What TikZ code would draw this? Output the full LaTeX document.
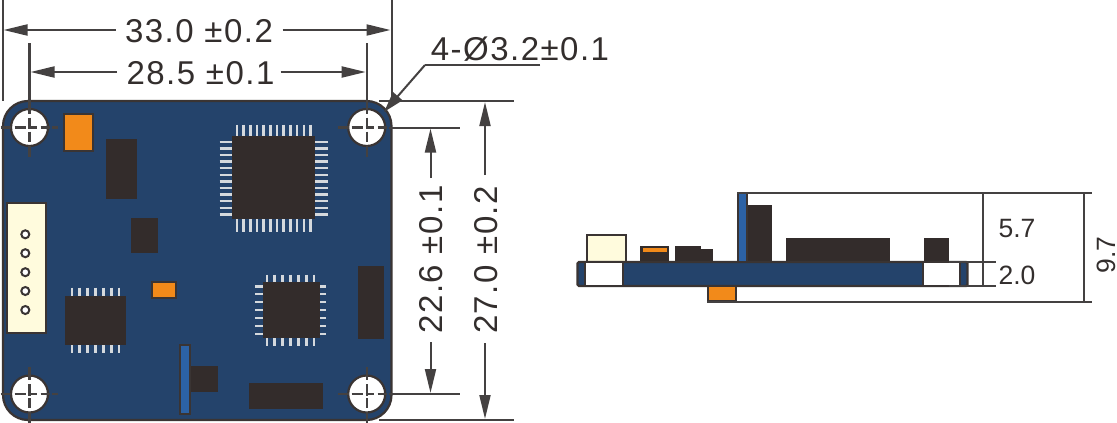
\documentclass[tikz,border=0pt]{standalone}
\usepackage{fontspec}
\setmainfont{Liberation Sans}
\newfontfamily\dimfont[LetterSpace=4.5]{Liberation Sans}
\usetikzlibrary{arrows.meta}
\definecolor{navy}{HTML}{24436B}
\definecolor{chip}{HTML}{332C2B}
\definecolor{edge}{HTML}{3A3433}
\definecolor{dimc}{HTML}{444141}
\definecolor{orng}{HTML}{F28A1A}
\definecolor{cream}{HTML}{FFFBDD}
\definecolor{blueb}{HTML}{2C62A5}
\definecolor{pinc}{HTML}{D5D9DD}
\definecolor{txt}{HTML}{332E2D}
\tikzset{
  x=1pt,y=-1pt,
  board/.style={fill=navy,draw=edge,line width=2.2pt},
  chipbox/.style={fill=chip,draw=none},
  orangebox/.style={fill=orng,draw=edge,line width=2pt},
  creambox/.style={fill=cream,draw=edge,line width=2pt},
  bluebox/.style={fill=blueb,draw=edge,line width=2pt},
  whitebox/.style={fill=white,draw=edge,line width=2pt},
  pin/.style={draw=pinc,line width=2.4pt},
  dimline/.style={draw=dimc,line width=2pt},
  center/.style={draw=dimc,line width=2.2pt},
  arrowline/.style={draw=dimc,line width=2pt,-{Triangle[length=24pt,width=11pt]}},
  bigtext/.style={text=txt,inner sep=0pt,font=\dimfont\fontsize{33}{33}\selectfont},
  leadtext/.style={text=txt,inner sep=0pt,font=\dimfont\fontsize{33}{33}\selectfont},
  smalltext/.style={text=txt,inner sep=0pt,font=\fontsize{26.5}{27}\selectfont},
  hole/.style={fill=white,draw=edge,line width=2.2pt},
}
\begin{document}
\begin{tikzpicture}
\useasboundingbox (0,0) rectangle (1117,423);
% ---------- top view ----------
\draw[board,rounded corners=25pt] (3,101) rectangle (391.5,420);
\draw[orangebox] (63.5,114) rectangle (92.5,150.5);
\path[chipbox] (106,139) rectangle (137,199);
% big QFP
\foreach \i in {0,...,11}{
  \draw[pin] ({237+\i*6.67},124.5) -- ++(0,11.5);
  \draw[pin] ({237+\i*6.67},219) -- ++(0,12.5);
  \draw[pin] (219.5,{141.7+\i*6.6}) -- ++(12.5,0);
  \draw[pin] (315,{141.7+\i*6.6}) -- ++(12.5,0);
}
\path[chipbox] (232,136) rectangle (315,219);
% connector
\draw[creambox] (6.5,202.5) rectangle (46,333);
\foreach \y in {234.3,253.2,272.2,291,310}
  \draw[fill=white,draw=edge,line width=2pt] (25.3,\y) circle (4);
\path[chipbox] (131,218) rectangle (158,253);
\draw[orangebox] (152,282) rectangle (176,297.5);
% SOIC
\foreach \i in {0,...,6}{
  \draw[pin] ({71.7+\i*7.93},287.5) -- ++(0,8.5);
  \draw[pin] ({71.7+\i*7.93},345) -- ++(0,8);
}
\path[chipbox] (65,296) rectangle (126,345);
% small QFP
\foreach \i in {0,...,6}{
  \draw[pin] ({266.7+\i*7.93},274.5) -- ++(0,7.5);
  \draw[pin] ({266.7+\i*7.93},338) -- ++(0,8);
  \draw[pin] (255,{286.3+\i*7.9}) -- ++(8,0);
  \draw[pin] (319.5,{286.3+\i*7.9}) -- ++(6.5,0);
}
\path[chipbox] (263,282) rectangle (319.5,338);
\path[chipbox] (358,266) rectangle (384,339);
\path[chipbox] (190,366) rectangle (218,392);
\draw[bluebox] (180,345) rectangle (190,413.5);
\path[chipbox] (249,383) rectangle (323,409);
% holes
\foreach \hx/\hy in {29.5/127.5,366.7/127.5,29.5/394,366.7/394}
  \draw[hole] (\hx,\hy) circle (18.5);
% centre marks
\foreach \hx/\hy in {29.5/127.5,366.7/127.5,29.5/394,366.7/394}{
  \foreach \a/\b in {-15/-4,-1/7,11/20}
    \draw[center] (\hx+\a,\hy) -- (\hx+\b,\hy);
  \foreach \a/\b in {-10/1.5,4/14,18/29}
    \draw[center] (\hx,\hy+\a) -- (\hx,\hy+\b);
}
\foreach \hy in {127.5,394}{
  \draw[center] (0.5,\hy) -- (11,\hy);
  \draw[center] (51.5,\hy) -- (57.5,\hy);
  \draw[center] (338,\hy) -- (349,\hy);
}
\draw[center] (29.5,43) -- (29.5,113.5);
\draw[center] (366.7,43) -- (366.7,113.5);
\draw[center] (29.5,367) -- (29.5,380);
\draw[center] (366.7,367) -- (366.7,380);
% extension lines, top view
\draw[dimline] (2.5,0) -- (2.5,101);
\draw[dimline] (391.5,0) -- (391.5,101);
\draw[dimline] (379,101) -- (514,101);
\draw[dimline] (389,127.5) -- (460,127.5);
\draw[dimline] (389,394) -- (460,394);
\draw[dimline] (379,420) -- (514,420);
% dimension arrows
\coordinate (w33l) at (3.5,30); \coordinate (w33r) at (390.5,30);
\coordinate (w28l) at (30.5,72); \coordinate (w28r) at (365.7,72);
\node[bigtext] (t33) at (199,31) {33.0 ±0.2};
\node[bigtext] (t28) at (200.5,73.3) {28.5 ±0.1};
\draw[arrowline] (115.5,30) -- (w33l);
\draw[arrowline] (282.5,30) -- (w33r);
\draw[arrowline] (117,72) -- (w28l);
\draw[arrowline] (280.5,72) -- (w28r);
\coordinate (v22t) at (430.5,128.5); \coordinate (v22b) at (430.5,393);
\coordinate (v27t) at (485,102); \coordinate (v27b) at (485,419);
\node[bigtext,rotate=90] (t22) at (431,259.5) {22.6 ±0.1};
\node[bigtext,rotate=90] (t27) at (486,260) {27.0 ±0.2};
\draw[arrowline] (430.5,178) -- (v22t);
\draw[arrowline] (430.5,342) -- (v22b);
\draw[arrowline] (485,175) -- (v27t);
\draw[arrowline] (485,343) -- (v27b);
% leader
\coordinate (lead0) at (540,65); \coordinate (lead1) at (425,65); \coordinate (lead2) at (384,112);
\draw[dimline] (lead0) -- (lead1);
\draw[draw=dimc,line width=2pt,-{Triangle[length=21pt,width=12pt]}] (lead1) -- (lead2);
\node[leadtext] (tlead) at (520,49) {4-Ø3.2±0.1};
% ---------- side view ----------
\draw[creambox] (586.5,234.5) rectangle (625.5,262);
\fill[chip] (640,246) rectangle (669,262);
\fill[orng] (642.5,248) rectangle (667,252);
\fill[chip] (675,246) rectangle (701,262);
\fill[chip] (701,249) rectangle (713,262);
\fill[chip] (747,205) rectangle (772,262);
\fill[chip] (786,238) rectangle (890,262);
\fill[chip] (924,238) rectangle (949,262);
\draw[board,rounded corners=1.5pt] (577.5,262) rectangle (967.5,286);
\draw[whitebox] (585,262) rectangle (622.5,286);
\draw[whitebox] (922.5,262) rectangle (959.5,286);
\draw[bluebox] (737.5,193) rectangle (747,262);
\draw[orangebox] (707.5,286) rectangle (735.5,301);
% extension lines, side view
\draw[dimline] (737,193) -- (1092,193);
\draw[dimline] (707,301.5) -- (1092,301.5);
\draw[dimline] (949,261.7) -- (996,261.7);
\draw[dimline] (949,286) -- (996,286);
\draw[dimline] (983,193) -- (983,286);
\draw[dimline] (1084,193) -- (1084,301.5);
\node[smalltext] (t57) at (1017,229) {5.7};
\node[smalltext] (t20) at (1017,275) {2.0};
\node[smalltext,rotate=90] (t97) at (1106,255) {9.7};
\end{tikzpicture}
\end{document}
